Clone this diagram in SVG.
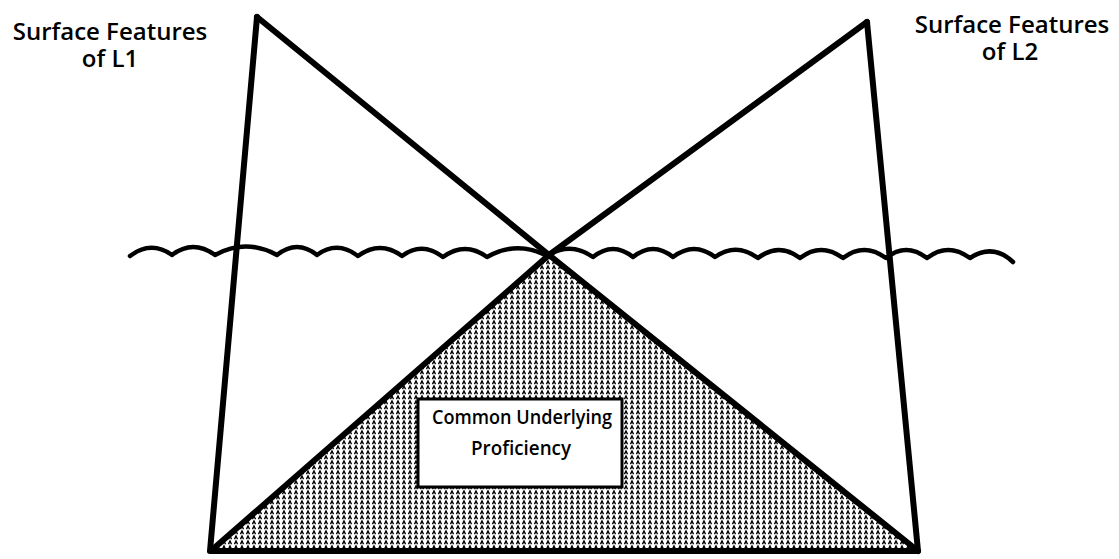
<svg xmlns="http://www.w3.org/2000/svg" width="1119" height="559" viewBox="0 0 1119 559">
<style>
.lbl{font-family:"Open Sans","Liberation Sans",sans-serif;font-weight:600;font-size:24px;fill:#000;text-anchor:middle}
.box{font-family:"Open Sans","Liberation Sans",sans-serif;font-weight:600;font-size:20.5px;fill:#000;text-anchor:middle}
.ln{fill:none;stroke:#000;stroke-width:6;stroke-linecap:round;stroke-linejoin:round}
.wave{fill:none;stroke:#000;stroke-width:4.5;stroke-linecap:round;stroke-linejoin:round}
</style>
<defs>
<pattern id="stip" width="6" height="5" patternUnits="userSpaceOnUse">
<rect width="6" height="5" fill="#fff"/>
<path d="M0.5,4.2 L2,1 L3.5,4.2" fill="none" stroke="#000" stroke-width="1.4"/>
</pattern>
</defs>
<rect width="1119" height="559" fill="#fff"/>
<g id="shaded-cup">
<polygon points="549,256 213,549 916,549" fill="url(#stip)"/>
</g>
<g id="box">
<rect x="418" y="399" width="204" height="88" fill="#fff" stroke="#000" stroke-width="3"/>
<text class="box" x="522" y="424" textLength="180" lengthAdjust="spacingAndGlyphs">Common Underlying</text>
<text class="box" x="521" y="455" textLength="100" lengthAdjust="spacingAndGlyphs">Proficiency</text>
</g>
<g id="connectors">
<path class="ln" d="M257,17 L210,551 L918,551 L867,22"/>
<path class="ln" d="M257,17 L549,255 L918,551"/>
<path class="ln" d="M867,22 L549,255 L213,549"/>
</g>
<g id="waterline">
<path class="wave" d="M130,256 Q151,240 172,255 Q193,239 215,255 Q246,238 277,255 Q297,239 317,255 Q337,240 358,256 Q380,240 402,256 Q422,241 443,257 Q465,241 487,257 Q517,240 547,256 Q570,241 593,257 Q613,241 633,257 Q653,241 673,257 Q694,241 715,257 Q736,242 758,258 Q779,242 800,258 Q821,242 843,258 Q864,242 886,258 Q906,242 927,258 Q948,242 970,258 Q993,243 1013,262"/>
</g>
<g id="label-l1">
<text class="lbl" x="110" y="40">Surface Features</text>
<text class="lbl" x="110" y="67">of L1</text>
</g>
<g id="label-l2">
<text class="lbl" x="1012" y="33">Surface Features</text>
<text class="lbl" x="1010" y="60">of L2</text>
</g>
</svg>
